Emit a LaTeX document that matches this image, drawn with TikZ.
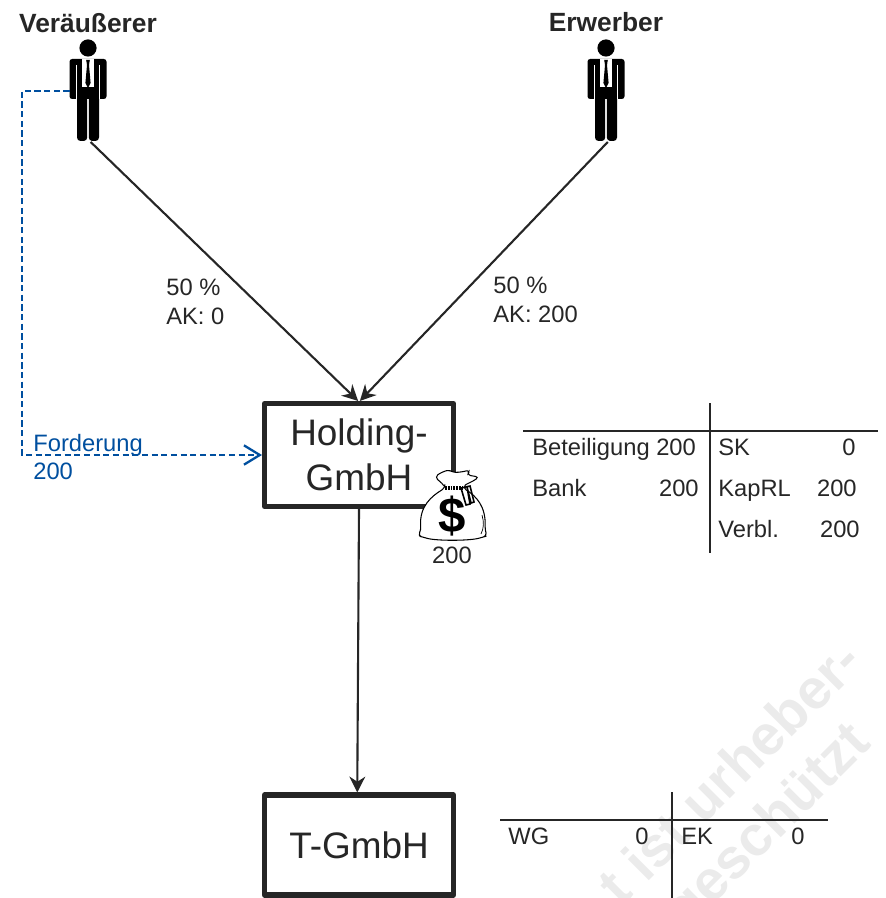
\documentclass[tikz,border=0pt]{standalone}
\usepackage{fontspec}
\setmainfont{Liberation Sans}
\usetikzlibrary{arrows.meta,positioning}
\definecolor{inkcol}{HTML}{262626}
\definecolor{claimcol}{HTML}{004F9F}
\definecolor{markcol}{HTML}{EBEBEB}
\tikzset{
  person/.pic={
    \fill[black] (0,-43) circle (8.6);
    \fill[black,rounded corners=1.5pt] (-18.5,-32) rectangle (18.5,8);
    \fill[black,rounded corners=2pt] (-11,0) rectangle (-0.8,50);
    \fill[black,rounded corners=2pt] (0.8,0) rectangle (11,50);
    \draw[white,line width=0.5pt] (-11.5,-26) -- (-11.5,8) (11.5,-26) -- (11.5,8);
    \fill[white] (-6,-32) -- (6,-32) -- (6,-4) -- (-6,-4) -- cycle;
    \fill[black] (-1.8,-31) -- (1.8,-31) -- (1,-26) -- (2.6,-8) -- (0,-3) -- (-2.6,-8) -- (-1,-26) -- cycle;
  },
}
\begin{document}
\begin{tikzpicture}[
  x=0.02cm,y=-0.02cm,
  lbl/.style={font=\fontsize{13.5pt}{16.4pt}\selectfont,text=inkcol,inner sep=0pt},
  lft/.style={lbl,anchor=base west},
  rgt/.style={lbl,anchor=base east},
  headl/.style={font=\fontsize{15pt}{18pt}\selectfont\bfseries,text=inkcol,inner sep=0pt},
  gmbh/.style={draw=inkcol,line width=2.9pt,line join=round,minimum width=3.78cm,align=center,
               text=inkcol,font=\fontsize{21pt}{25.5pt}\selectfont,inner sep=0pt},
  persbox/.style={minimum width=0.74cm,minimum height=2.04cm,inner sep=0pt,outer sep=0pt},
  arr/.style={-{Stealth[length=9pt,width=9pt]},draw=inkcol,line width=1.2pt},
  darr/.style={-{Straight Barb[length=9pt,width=11pt]},draw=claimcol,line width=1.3pt,dash pattern=on 3.5pt off 2pt},
  rule/.style={draw=inkcol,line width=1.2pt},
  wmark/.style={font=\fontsize{32pt}{32pt}\selectfont\bfseries,text=markcol,rotate=45,inner sep=0pt},
]
\useasboundingbox (0,0) rectangle (885,898);
\clip (0,0) rectangle (885,898);

% watermark
\node[wmark,anchor=east] (markone) at (851,650) {t ist urheber-};
\node[wmark,anchor=east] (marktwo) at (863,735) {geschützt};

% persons
\node[headl] (sellerlbl) at (88,23) {Veräußerer};
\node[headl] (buyerlbl) at (606,22) {Erwerber};
\node[persbox] (seller) at (88,91) {};
\node[persbox] (buyer) at (606,91) {};
\pic at (seller.center) {person};
\pic at (buyer.center) {person};

% companies
\node[gmbh,minimum height=2.06cm] (holding) at (359,455) {Holding-\\GmbH};
\node[gmbh,minimum height=2.0cm] (tgmbh) at (359,845) {T-GmbH};

% connectors
\draw[arr] ([xshift=1.5pt]seller.south) -- ([xshift=-0.5pt]holding.north);
\draw[arr] ([xshift=1pt]buyer.south) -- ([xshift=0.5pt]holding.north);
\draw[arr] (holding.south) -- ([xshift=-1pt]tgmbh.north);
\coordinate (claimbend) at (22,455);
\draw[darr] (seller.west) -| (claimbend) -- (holding.west);

% labels
\node[lbl,anchor=west,align=left] (sharea) at (166,302) {50 \%\\AK: 0};
\node[lbl,anchor=west,align=left] (shareb) at (493,300) {50 \%\\AK: 200};
\node[lft,text=claimcol] (claima) at (33,451) {Forderung};
\node[lft,text=claimcol] (claimb) at (33,479) {200};

% money bag
\path[draw=black,fill=white,line width=0.6pt,rounded corners=2pt]
  (445,488) .. controls (442,483) and (438,480) .. (435,477)
  .. controls (440,473) and (445,471) .. (450,470)
  .. controls (455,473) and (462,472) .. (470,470)
  -- (467,475) -- (479,477)
  .. controls (472,482) and (466,484) .. (463,488)
  .. controls (476,496) and (486,506) .. (485,530) -- (487,536) -- (483,537)
  .. controls (470,541) and (435,541) .. (423,537) -- (418,536) -- (421,530)
  .. controls (419,506) and (432,496) .. (445,488) -- cycle;
\draw[black,line width=2pt,dash pattern=on 1pt off 0.6pt] (445,488) -- (463,488);
\draw[black,line width=0.9pt] (461,488) -- (466,505) -- (470,504) -- (467,487) -- (471,503) -- (474,502) -- (470,486) -- cycle;
\draw[black,line width=0.4pt] (482,515) .. controls (484,522) and (484,528) .. (481,534);
\node[font=\fontsize{28pt}{28pt}\selectfont\bfseries,inner sep=0pt] (dollar) at (452,516) {\$};
\node[lbl,anchor=base] (bagval) at (452,563) {200};

% balance sheet holding
\coordinate (hla) at (523,431);
\coordinate (hlb) at (878,431);
\coordinate (hva) at (710,403);
\coordinate (hvb) at (710,553);
\draw[rule] (hla) -- (hlb);
\draw[rule] (hva) -- (hvb);
\node[lft] (part) at (532,455) {Beteiligung 200};
\node[lft] (bank) at (532,496) {Bank};
\node[rgt] (bankval) at (699,496) {200};
\node[lft] (sk) at (718,455) {SK};
\node[rgt] (skval) at (856,455) {0};
\node[lft] (kaprl) at (718,496) {KapRL};
\node[rgt] (kaprlval) at (857,496) {200};
\node[lft] (verbl) at (718,537) {Verbl.};
\node[rgt] (verblval) at (860,537) {200};

% balance sheet T
\coordinate (tla) at (500,820);
\coordinate (tlb) at (828,820);
\coordinate (tva) at (672,792);
\coordinate (tvb) at (672,898);
\draw[rule] (tla) -- (tlb);
\draw[rule] (tva) -- (tvb);
\node[lft] (wg) at (508,844) {WG};
\node[rgt] (wgval) at (649,844) {0};
\node[lft] (ek) at (681,844) {EK};
\node[rgt] (ekval) at (805,844) {0};
\end{tikzpicture}
\end{document}
